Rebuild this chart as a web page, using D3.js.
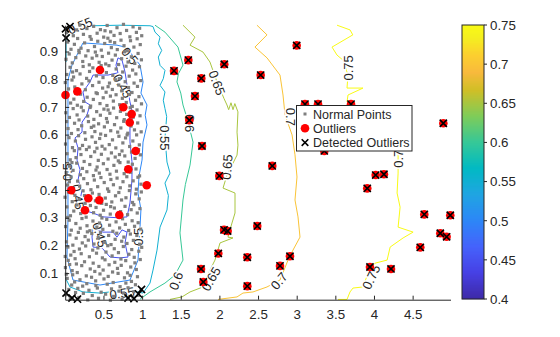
<!DOCTYPE html>
<html><head><meta charset="utf-8">
<script src="https://cdn.jsdelivr.net/npm/d3@7"></script>
<style>
body{margin:0;background:#fff}
svg{display:block}
text{font-family:"Liberation Sans",Arial,Helvetica,sans-serif;fill:#262626}
</style></head>
<body><svg id="chart" width="560" height="337"></svg>
<script>
// ---- axis ticks ----
const xTicks = [0.5, 1, 1.5, 2, 2.5, 3, 3.5, 4, 4.5];
const yTicks = [0.1, 0.2, 0.3, 0.4, 0.5, 0.6, 0.7, 0.8, 0.9];
const cbTicks = [0.4, 0.45, 0.5, 0.55, 0.6, 0.65, 0.7, 0.75];

// ---- normal points, [x, y] in thousandths ----
const normalMilli = [
 [14,22],[52,41],[71,8],[139,30],[168,45],[181,12],[240,27],[297,3],[312,38],[355,19],[421,46],[436,9],[470,31],[528,24],[590,2],[604,43],[633,16],[702,35],[741,6],[760,28],[818,47],[879,14],[893,33],[951,20],[987,40],
 [31,81],[89,57],[102,94],[127,68],[196,76],[231,53],[278,90],[284,62],[346,85],[399,72],[402,55],[455,97],[507,79],[549,60],[561,88],[626,66],[689,99],[715,51],[772,83],[790,64],[845,92],[862,70],[914,58],[940,87],[19,96],
 [8,120],[44,146],[95,109],[150,133],[161,102],[219,127],[255,141],[329,115],[367,136],[388,106],[441,124],[496,111],[520,148],[573,130],[618,104],[647,139],[681,117],[730,128],[788,145],[811,101],[853,122],[907,137],[925,113],[976,149],[63,131],
 [40,194],[77,165],[120,178],[133,152],[189,187],[212,170],[270,198],[318,159],[361,183],[410,172],[428,191],[486,155],[533,176],[556,199],[612,162],[640,188],[694,174],[726,151],[757,196],[829,168],[866,185],[898,157],[957,179],[995,193],[5,160],
 [22,213],[66,238],[104,201],[147,226],[175,247],[226,209],[262,232],[304,219],[349,243],[377,205],[432,228],[461,246],[515,211],[567,236],[598,203],[651,222],[672,244],[736,215],[764,230],[804,207],[848,241],[887,218],[932,236],[968,204],[292,249],
 [11,268],[58,291],[84,255],[143,279],[199,262],[222,297],[287,271],[325,253],[364,288],[415,266],[449,281],[492,258],[543,294],[579,273],[622,251],[663,285],[709,263],[747,296],[783,276],[826,254],[871,289],[902,269],[949,282],[981,259],[480,299],
 [27,339],[73,307],[116,324],[158,346],[206,315],[249,331],[276,302],[331,344],[372,318],[404,337],[458,309],[501,327],[536,348],[588,313],[641,335],[687,304],[722,322],[779,341],[812,311],[858,329],[893,347],[937,317],[972,333],[38,301],[593,340],
 [3,374],[49,392],[96,358],[131,381],[185,366],[236,397],[263,352],[309,377],[357,389],[396,361],[443,384],[478,352],[524,371],[569,395],[608,357],[656,379],[699,391],[734,364],[791,372],[835,398],[876,355],[918,386],[962,368],[990,393],[255,380],
 [36,418],[81,447],[112,406],[166,432],[192,414],[245,441],[293,423],[338,401],[382,436],[425,412],[467,445],[510,427],[553,404],[596,438],[629,419],[676,443],[718,408],[753,430],[802,448],[841,415],[884,433],[926,403],[946,446],[985,421],[59,430],
 [17,463],[62,486],[107,471],[154,497],[201,455],[228,478],[285,466],[323,492],[370,452],[418,483],[447,461],[499,495],[547,474],[584,457],[635,489],[668,468],[713,499],[768,459],[797,481],[851,464],[874,493],[921,476],[967,451],[92,499],[403,472],
 [29,531],[70,509],[123,542],[145,517],[209,528],[250,503],[280,546],[336,521],[386,538],[433,507],[473,529],[519,548],[560,512],[603,534],[652,519],[692,505],[740,541],[776,523],[820,501],[863,537],[909,514],[954,546],[978,527],[193,549],[707,528],
 [9,566],[54,589],[99,553],[137,577],[178,596],[229,561],[268,583],[315,555],[352,592],[397,572],[451,586],[482,558],[527,597],[575,564],[617,581],[660,552],[700,594],[751,570],[786,588],[839,557],[880,577],[929,599],[964,563],[416,551],[806,599],
 [42,622],[86,604],[126,641],[171,618],[218,632],[259,607],[306,647],[343,626],[389,611],[437,639],[464,602],[512,628],[551,645],[594,614],[643,636],[684,609],[725,624],[762,648],[815,605],[857,631],[901,617],[943,642],[988,610],[24,647],[375,631],
 [13,679],[60,662],[108,694],[159,671],[184,653],[239,686],[296,667],[327,698],[376,655],[412,683],[460,670],[506,692],[539,658],[583,677],[631,696],[671,661],[719,684],[769,654],[801,673],[846,697],[885,663],[934,689],[973,668],[214,699],[560,689],
 [33,742],[75,714],[117,728],[162,706],[204,746],[244,720],[289,735],[334,703],[369,727],[420,748],[455,712],[497,733],[545,705],[590,739],[628,721],[663,744],[710,708],[744,731],[795,716],[836,745],[873,702],[915,724],[959,737],[992,711],[140,749],
 [6,788],[48,765],[93,797],[129,772],[172,756],[221,783],[266,762],[312,794],[359,777],[405,751],[442,789],[489,768],[534,753],[578,786],[615,763],[657,798],[698,779],[737,758],[781,791],[824,770],[869,752],[896,786],[940,774],[983,795],[560,773],
 [26,817],[68,843],[113,808],[151,831],[197,819],[237,846],[282,803],[320,828],[363,841],[409,812],[453,835],[494,806],[538,824],[571,849],[621,814],[664,837],[706,802],[749,826],[792,847],[833,811],[877,833],[919,819],[966,845],[100,826],[470,849],
 [15,872],[57,891],[97,859],[142,878],[186,896],[232,864],[271,884],[317,852],[354,876],[395,898],[444,861],[485,882],[529,855],[566,894],[611,869],[654,887],[696,853],[735,874],[774,899],[818,862],[861,881],[905,857],[948,893],[991,870],[413,885],
 [37,934],[80,908],[124,926],[166,947],[210,912],[256,931],[301,903],[342,944],[384,918],[426,937],[472,905],[516,929],[557,948],[602,914],[645,932],[679,907],[727,941],[766,921],[809,903],[850,939],[894,916],[936,946],[976,925],[182,904],[587,937],
 [21,968],[64,989],[110,957],[153,978],[195,996],[241,962],[286,983],[326,954],[373,991],[418,966],[461,979],[503,952],[548,994],[593,971],[637,958],[675,986],[716,965],[759,998],[799,976],[842,953],[883,989],[926,969],[968,984],[995,957],[520,975],
 [9,982],[67,990],[16,949],[16,28],[93,10],[164,6],[818,10],[895,8],[953,25],[992,41]
];
const normalPoints = normalMilli.map(d => [d[0] / 1000, d[1] / 1000]);

// ---- outliers [x, y] ----
const outliers = [
  [0.009,0.743],[0.162,0.756],[0.455,0.833],[0.757,0.699],[0.865,0.674],[0.840,0.644],
  [0.917,0.541],[0.821,0.475],[1.060,0.417],[0.084,0.399],[0.304,0.370],[0.446,0.363],
  [0.261,0.327],[0.705,0.310],
  [1.413,0.830],[1.598,0.869],[2.063,0.854],[1.766,0.803],[1.684,0.739],[1.611,0.652],
  [1.775,0.559],[2.534,0.815],[3.000,0.922],[3.107,0.710],[3.276,0.710],[3.703,0.710],
  [2.684,0.487],[1.999,0.451],[2.490,0.270],[2.060,0.256],[2.107,0.252],[1.986,0.171],
  [2.361,0.157],[2.913,0.161],[2.784,0.126],[1.762,0.115],[1.792,0.068],[2.361,0.053],
  [4.897,0.641],[3.357,0.541],[4.022,0.454],[4.129,0.457],[3.913,0.406],[4.651,0.312],
  [4.987,0.309],[4.858,0.244],[4.940,0.231],[4.599,0.193],[3.948,0.122],[4.220,0.115]
];
// ---- points flagged by the detector [x, y] ----
const detected = [
  [1.413,0.830],[1.598,0.869],[2.063,0.854],[1.766,0.803],[1.684,0.739],[1.611,0.652],
  [1.775,0.559],[2.534,0.815],[3.000,0.922],[3.107,0.710],[3.276,0.710],[3.703,0.710],
  [2.684,0.487],[1.999,0.451],[2.490,0.270],[2.060,0.256],[2.107,0.252],[1.986,0.171],
  [2.361,0.157],[2.913,0.161],[2.784,0.126],[1.762,0.115],[1.792,0.068],[2.361,0.053],
  [4.897,0.641],[3.357,0.541],[4.022,0.454],[4.129,0.457],[3.913,0.406],[4.651,0.312],
  [4.987,0.309],[4.858,0.244],[4.940,0.231],[4.599,0.193],[3.948,0.122],[4.220,0.115],
  [0.009,0.982],[0.067,0.990],[0.016,0.949],
  [0.016,0.028],[0.093,0.010],[0.164,0.006],
  [0.818,0.010],[0.895,0.008],[0.953,0.025],[0.992,0.041]
];

// ---- contour lines of the score surface ----
const c045a = [[0.688,0.877],[0.740,0.869],[0.779,0.826],[0.805,0.779],[0.843,0.718],[0.882,0.671],
  [0.843,0.624],[0.843,0.574],[0.869,0.502],[0.869,0.436],[0.843,0.353],[0.805,0.303],[0.675,0.300],
  [0.494,0.303],[0.364,0.317],[0.235,0.328],[0.197,0.364],[0.223,0.400],[0.171,0.436],[0.197,0.473],
  [0.158,0.508],[0.171,0.552],[0.132,0.588],[0.223,0.609],[0.223,0.645],[0.287,0.671],[0.326,0.707],
  [0.261,0.718],[0.235,0.754],[0.326,0.790],[0.365,0.815],[0.559,0.815],[0.688,0.823],[0.662,0.851]];
const c045b = [[0.365,0.263],[0.494,0.248],[0.624,0.248],[0.675,0.230],[0.740,0.256],[0.805,0.248],
  [0.779,0.209],[0.818,0.158],[0.714,0.155],[0.585,0.158],[0.481,0.191],[0.365,0.194],[0.352,0.230]];
const c050 = [[0.235,0.931],[0.455,0.927],[0.675,0.923],[0.779,0.916],[0.843,0.898],[0.973,0.851],
  [1.012,0.790],[0.985,0.750],[1.063,0.707],[1.040,0.670],[1.063,0.635],[1.012,0.573],[0.999,0.508],
  [0.960,0.450],[0.947,0.389],[0.985,0.330],[0.973,0.266],[0.947,0.147],[0.843,0.075],[0.455,0.057],
  [0.106,0.075],[0.028,0.158],[0.041,0.292],[0.041,0.425],[0.041,0.501],[0.041,0.671],[0.041,0.797],
  [0.093,0.851]];
const c055 = [[0.016,0.862],[0.016,0.949],[0.132,0.978],[0.365,0.993],[0.714,0.995],[1.102,0.993],
  [1.141,0.990],[1.167,0.970],[1.232,0.952],[1.210,0.928],[1.254,0.904],[1.210,0.880],[1.232,0.850],
  [1.296,0.832],[1.274,0.802],[1.232,0.778],[1.296,0.754],[1.274,0.724],[1.296,0.694],[1.318,0.665],
  [1.296,0.588],[1.322,0.501],[1.361,0.461],[1.296,0.425],[1.340,0.380],[1.322,0.328],[1.232,0.266],
  [1.193,0.183],[1.141,0.111],[1.102,0.064],[1.012,0.028],[0.805,0.039],[0.455,0.028],[0.235,0.032],
  [0.067,0.050],[0.009,0.082]];
const c060 = [[1.167,0.995],[1.296,0.970],[1.464,0.916],[1.529,0.851],[1.470,0.820],[1.451,0.790],
  [1.500,0.750],[1.529,0.707],[1.581,0.660],[1.659,0.573],[1.620,0.490],[1.560,0.420],[1.529,0.364],
  [1.490,0.245],[1.529,0.147],[1.425,0.093],[1.296,0.064],[1.102,0.032],[0.973,0.006]];
const c065 = [[1.529,0.995],[1.684,0.952],[1.620,0.923],[1.788,0.898],[1.878,0.862],[1.969,0.790],
  [2.060,0.730],[2.098,0.707],[2.120,0.690],[2.150,0.715],[2.176,0.690],[2.200,0.712],[2.240,0.682],
  [2.228,0.609],[2.240,0.562],[2.228,0.526],[2.098,0.454],[2.047,0.407],[2.202,0.389],[2.202,0.317],
  [2.163,0.281],[2.111,0.230],[2.176,0.227],[2.008,0.209],[1.943,0.147],[1.878,0.111],[1.788,0.050],
  [1.620,0.032],[1.516,0.014],[1.361,0.005]];
const c070 = [[2.486,0.995],[2.616,0.960],[2.460,0.916],[2.616,0.877],[2.784,0.815],[2.823,0.743],
  [2.849,0.671],[2.940,0.599],[2.978,0.527],[3.004,0.447],[2.978,0.364],[3.017,0.303],[3.043,0.230],
  [2.952,0.183],[2.888,0.147],[2.784,0.075],[2.616,0.050],[2.435,0.032],[2.305,0.028],[2.228,0.014],
  [1.982,0.005]];
const c075 = [[3.522,0.995],[3.690,0.978],[3.726,0.960],[3.457,0.916],[3.522,0.887],[3.599,0.869],
  [3.664,0.815],[3.651,0.768],[3.858,0.768],[3.664,0.743],[3.651,0.718],[4.312,0.544],[4.312,0.461],
  [4.299,0.389],[4.338,0.338],[4.312,0.266],[4.506,0.248],[4.377,0.227],[4.209,0.194],[4.170,0.147],
  [4.015,0.136],[3.925,0.101],[3.857,0.050],[3.728,0.046],[3.690,0.032],[3.651,0.005],[3.535,0.005]];

const contourLevels = [0.45, 0.45, 0.5, 0.55, 0.6, 0.65, 0.7, 0.75];
const contourPaths  = [c045a, c045b, c050, c055, c060, c065, c070, c075];
const contourClosed = [true, true, true, false, false, false, false, false];

// inline contour labels
const labelLevels = [0.55, 0.45, 0.5, 0.45, 0.5, 0.45, 0.5, 0.55, 0.55, 0.6, 0.6, 0.65, 0.65, 0.65, 0.7, 0.7, 0.75, 0.75, 0.75];
const labelX = [0.197, 0.749, 0.843, 0.171, 0.030, 0.455, 0.947, 1.296, 0.740, 1.620, 1.438, 1.969, 2.098, 1.891, 2.926, 2.771, 3.664, 4.312, 3.964];
const labelY = [0.993, 0.776, 0.884, 0.375, 0.465, 0.238, 0.231, 0.588, 0.028, 0.641, 0.072, 0.787, 0.483, 0.079, 0.664, 0.072, 0.841, 0.526, 0.086];
const labelRot = [-22, 60, 50, 80, -90, 75, -90, 90, -8, 90, -70, 70, -85, -60, 90, -50, -90, -90, -65];

// parula colormap stops
const parulaT = [0, 6/63, 12/63, 18/63, 24/63, 30/63, 36/63, 42/63, 48/63, 52/63, 56/63, 60/63, 1];
const parulaC = ["#3e2aa8","#4741e5","#4563fc","#2d87f7","#20a5e2","#02bac3","#37c897","#80cc59",
  "#d1bf27","#f8ba3d","#fccf30","#f5ef20","#f9fb15"];

const svg = d3.select("#chart");
const x = d3.scaleLinear().domain([0.005, 4.99]).range([65.2, 450.5]);
const y = d3.scaleLinear().domain([0.004, 0.995]).range([299.7, 25.2]);
const cScale = d3.scaleLinear().domain([0.4, 0.75]).range([0, 1]).clamp(true);
const parula = d3.scaleLinear().domain(parulaT).range(parulaC).interpolate(d3.interpolateRgb);
const color = v => parula(cScale(v));

// contour lines
const line = d3.line().x(d => x(d[0])).y(d => y(d[1])).curve(d3.curveLinear);
const lineClosed = d3.line().x(d => x(d[0])).y(d => y(d[1])).curve(d3.curveLinearClosed);
svg.append("g").selectAll("path").data(contourPaths).join("path")
  .attr("d", (d, i) => (contourClosed[i] ? lineClosed : line)(d))
  .attr("fill", "none")
  .attr("stroke", (d, i) => color(contourLevels[i]))
  .attr("stroke-width", 1);

// contour labels (white halo breaks the line under the text)
svg.append("g").selectAll("text").data(labelLevels).join("text")
  .attr("transform", (d, i) => `translate(${x(labelX[i])},${y(labelY[i])}) rotate(${labelRot[i]})`)
  .attr("text-anchor", "middle").attr("dy", "0.36em")
  .attr("font-size", 13)
  .attr("stroke", "#fff").attr("stroke-width", 3).attr("paint-order", "stroke")
  .text(d => String(d));

// normal points
svg.append("g").selectAll("rect").data(normalPoints).join("rect")
  .attr("x", d => x(d[0]) - 1.6).attr("y", d => y(d[1]) - 1.6)
  .attr("width", 3.2).attr("height", 3.2).attr("fill", "#7f7f7f");

// outliers
svg.append("g").selectAll("circle").data(outliers).join("circle")
  .attr("cx", d => x(d[0])).attr("cy", d => y(d[1])).attr("r", 4.3).attr("fill", "#ff0000");

// detected outliers
const xMark = (px, py, s) => `M${px - s},${py - s}L${px + s},${py + s}M${px - s},${py + s}L${px + s},${py - s}`;
svg.append("g").selectAll("path").data(detected).join("path")
  .attr("d", d => xMark(x(d[0]), y(d[1]), 3.6))
  .attr("stroke", "#000").attr("stroke-width", 1.6).attr("fill", "none");

// axes
const xAxis = d3.axisBottom(x).tickValues(xTicks).tickFormat(d => String(d))
  .tickSizeInner(-4).tickSizeOuter(0).tickPadding(10);
const yAxis = d3.axisLeft(y).tickValues(yTicks).tickFormat(d => String(d))
  .tickSizeInner(-4).tickSizeOuter(0).tickPadding(7);
const gx = svg.append("g").attr("transform", `translate(0,${y(0.004)})`).call(xAxis);
const gy = svg.append("g").attr("transform", `translate(${x(0.005)},0)`).call(yAxis);
[gx, gy].forEach(g => {
  g.select(".domain").attr("stroke", "#262626");
  g.selectAll(".tick line").attr("stroke", "#262626");
  g.selectAll(".tick text").attr("font-size", 13.3).attr("fill", "#262626")
    .style("font-family", '"Liberation Sans",Arial,sans-serif');
});

// legend
const lg = svg.append("g");
lg.append("rect").attr("x", 296.5).attr("y", 105.5).attr("width", 115.5).attr("height", 45.5)
  .attr("fill", "#fff").attr("stroke", "#262626").attr("stroke-width", 1);
const legendNames = ["Normal Points", "Outliers", "Detected Outliers"];
const rowY = [114, 128.3, 142.6];
lg.append("rect").attr("x", 303.5).attr("y", rowY[0] - 1.5).attr("width", 3).attr("height", 3).attr("fill", "#7f7f7f");
lg.append("circle").attr("cx", 305).attr("cy", rowY[1]).attr("r", 4.3).attr("fill", "#ff0000");
lg.append("path").attr("d", xMark(305, rowY[2], 3.3)).attr("stroke", "#000").attr("stroke-width", 1.6);
lg.selectAll("text").data(legendNames).join("text")
  .attr("x", 313).attr("y", (d, i) => rowY[i]).attr("dy", "0.36em")
  .attr("font-size", 12.5).text(d => d);

// colorbar
const cb = d3.scaleLinear().domain([0.4, 0.75]).range([299, 25]);
const cbSteps = d3.range(0.4, 0.75, 0.35 / 274);
const cbg = svg.append("g");
cbg.selectAll("rect").data(cbSteps).join("rect")
  .attr("x", 462).attr("width", 22)
  .attr("y", d => cb(d + 0.35 / 274)).attr("height", 1.2)
  .attr("fill", d => color(d));
cbg.append("rect").attr("x", 462).attr("y", 25).attr("width", 22).attr("height", 274)
  .attr("fill", "none").attr("stroke", "#262626").attr("stroke-width", 1);
cbg.selectAll("line.t").data(cbTicks).join("line").attr("class", "t")
  .attr("x1", 484).attr("x2", 487).attr("y1", d => cb(d)).attr("y2", d => cb(d))
  .attr("stroke", "#262626");
cbg.selectAll("text").data(cbTicks).join("text")
  .attr("x", 490).attr("y", d => cb(d)).attr("dy", "0.36em")
  .attr("font-size", 13.3).text(d => String(d));
</script></body></html>
